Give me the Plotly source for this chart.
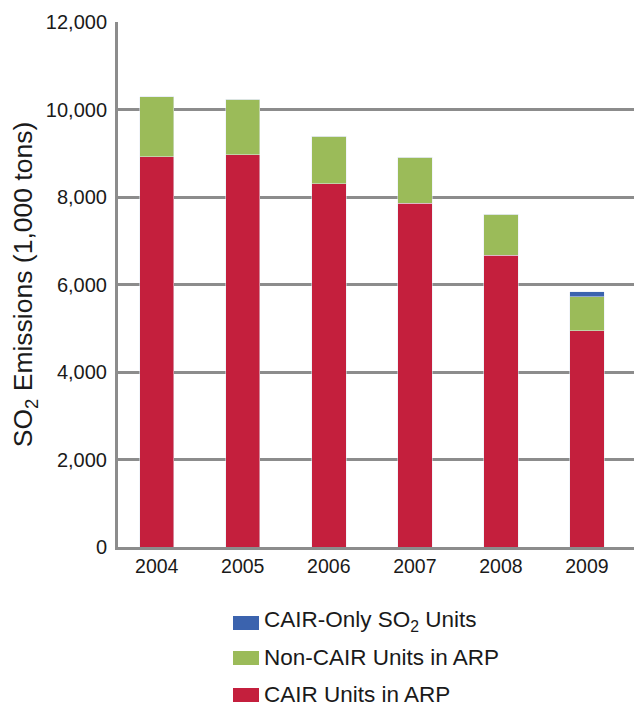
import plotly.graph_objects as go

years = ["2004", "2005", "2006", "2007", "2008", "2009"]
cair_arp = [8920, 8970, 8300, 7860, 6670, 4940]
non_cair_arp = [1370, 1260, 1090, 1050, 940, 780]
cair_only = [0, 0, 0, 0, 0, 110]
y_ticks = [0, 2000, 4000, 6000, 8000, 10000, 12000]

FONT = "Arial, Liberation Sans, sans-serif"
RED, GREEN, BLUE = "#C41F3D", "#9BBB59", "#3B63AE"

# the page puts the figure 8px in from the top-left corner
OFF = 8
W, H = 642 - OFF, 706 - OFF
# plot area in figure pixels
L, R, T, B = 118 - OFF, W, 22 - OFF, 547 - OFF


def px_x(x):
    # page pixel -> paper x
    return (x - OFF - L) / (R - L)


def px_y(y):
    return (B - (y - OFF)) / (B - T)


fig = go.Figure()
fig.add_trace(go.Bar(x=years, y=cair_arp, name="CAIR Units in ARP", marker_color=RED))
fig.add_trace(go.Bar(x=years, y=non_cair_arp, name="Non-CAIR Units in ARP", marker_color=GREEN))
fig.add_trace(go.Bar(x=years, y=cair_only, name="CAIR-Only SO<sub>2</sub> Units", marker_color=BLUE))

# legend drawn by hand so the swatches match the original size
legend_items = [
    ("CAIR-Only SO<sub>2</sub> Units", BLUE, 623, 621),
    ("Non-CAIR Units in ARP", GREEN, 658, 657),
    ("CAIR Units in ARP", RED, 695, 694),
]
for text, color, ys, yt in legend_items:
    fig.add_shape(type="rect", xref="paper", yref="paper",
                  x0=px_x(233), x1=px_x(259), y0=px_y(ys + 7), y1=px_y(ys - 7),
                  fillcolor=color, line_width=0)
    fig.add_annotation(xref="paper", yref="paper", x=px_x(262), y=px_y(yt),
                       xanchor="left", yanchor="middle", text=text, showarrow=False,
                       font=dict(size=22.5, family=FONT, color="#1a1a1a"))

fig.update_layout(
    barmode="stack",
    bargap=0.6,
    width=W, height=H,
    margin=dict(l=L, r=0, t=T, b=H - B, autoexpand=False),
    paper_bgcolor="white", plot_bgcolor="white",
    font=dict(family=FONT, size=20, color="#1a1a1a"),
    showlegend=False,
)
fig.update_xaxes(
    range=[-0.45, 5.64],
    showline=True, linecolor="#8C8C8C", linewidth=3,
    ticks="", showgrid=False, tickangle=0,
    tickfont=dict(size=19.5),
)
fig.update_yaxes(
    range=[0, 12000],
    tickvals=y_ticks, tickformat=",",
    showline=True, linecolor="#8C8C8C", linewidth=3,
    showgrid=True, gridcolor="#8C8C8C", gridwidth=2.5,
    zeroline=False, ticks="", ticklen=0, ticklabelstandoff=4,
    tickfont=dict(size=20),
    title=dict(text="SO<sub>2</sub> Emissions (1,000 tons)", font=dict(size=26.5), standoff=6),
    automargin=False,
)

fig.write_html("out.html")
